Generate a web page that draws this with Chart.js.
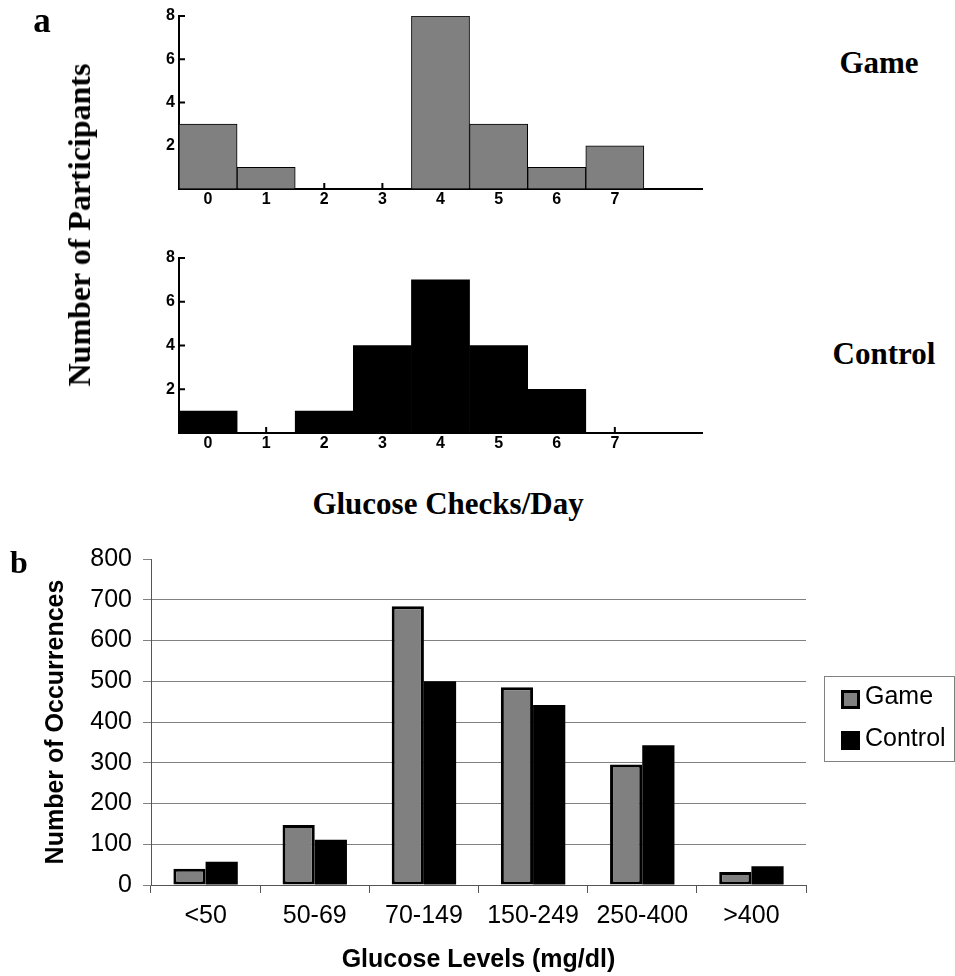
<!DOCTYPE html>
<html>
<head>
<meta charset="utf-8">
<script src="https://cdn.jsdelivr.net/npm/chart.js@4.4.1/dist/chart.umd.min.js"></script>
<style>
  body { margin: 0; background: #fff; }
  #page { position: relative; width: 955px; height: 976px; overflow: hidden; background: #fff; }
  canvas { position: absolute; left: 0; }
  .lbl { position: absolute; transform: translate(-50%, -50%); line-height: 1; white-space: nowrap; color: #000; }
  .serif { font-family: "Liberation Serif", "Times New Roman", serif; font-weight: bold; }
  .sans { font-family: "Liberation Sans", Arial, sans-serif; }
  #legend { position: absolute; left: 824px; top: 676px; width: 131px; height: 86px; border: 1px solid #808080; box-sizing: border-box; }
  .swatch { position: absolute; left: 16px; width: 19px; height: 19px; box-sizing: border-box; }
  .legtext { position: absolute; left: 40px; transform: translateY(-50%); font-size: 25px; line-height: 1; white-space: nowrap; }
</style>
</head>
<body>
<div id="page">
  <canvas id="gameHist" width="720" height="215" style="top:0px"></canvas>
  <canvas id="controlHist" width="720" height="217" style="top:241px"></canvas>
  <canvas id="occChart" width="955" height="446" style="top:530px"></canvas>

  <div class="lbl serif" style="left:42px; top:20px; font-size:35px;">a</div>
  <div class="lbl serif" style="left:19px; top:562px; font-size:32px;">b</div>
  <div class="lbl serif" style="left:79px; top:225px; font-size:32px; transform:translate(-50%,-50%) rotate(-90deg);">Number of Participants</div>
  <div class="lbl serif" style="left:879px; top:62px; font-size:31px;">Game</div>
  <div class="lbl serif" style="left:884px; top:353px; font-size:31px;">Control</div>
  <div class="lbl serif" style="left:448px; top:503px; font-size:31px;">Glucose Checks/Day</div>

  <div id="legend" class="sans"></div>
</div>
<script>
// glucose checks per day histograms (panel a)
const checkLabels = ['0', '1', '2', '3', '4', '5', '6', '7', ''];
const gameCounts = [3, 1, 0, 0, 8, 3, 1, 2, 0];
const controlCounts = [1, 0, 1, 4, 7, 4, 2, 0, 0];

// glucose level occurrences (panel b)
const glucoseLabels = ['<50', '50-69', '70-149', '150-249', '250-400', '>400'];
const gameOccurrences = [40, 147, 684, 485, 296, 32];
const controlOccurrences = [57, 111, 500, 442, 343, 46];
const seriesNames = ['Game', 'Control'];

Chart.defaults.font.family = '"Liberation Sans", Arial, sans-serif';
Chart.defaults.color = '#000';

// small ticks pointing into the plot, drawn under the bars
const innerTicks = {
  id: 'innerTicks',
  beforeDatasetsDraw(chart) {
    const { ctx, scales: { x, y } } = chart;
    ctx.save();
    ctx.strokeStyle = '#000';
    ctx.lineWidth = 2;
    ctx.beginPath();
    y.ticks.forEach((t) => {
      if (t.value > 0) {
        const py = y.getPixelForValue(t.value);
        ctx.moveTo(x.left, py);
        ctx.lineTo(x.left + 6, py);
      }
    });
    checkLabels.forEach((l, i) => {
      if (l !== '') {
        const px = x.getPixelForValue(i);
        ctx.moveTo(px, y.bottom);
        ctx.lineTo(px, y.bottom - 6);
      }
    });
    ctx.stroke();
    ctx.restore();
  },
};

function histogram(id, values, fill, borderWidth, padTop, xHeight) {
  const tickFont = { size: 16, weight: 'bold' };
  return new Chart(document.getElementById(id), {
    type: 'bar',
    data: {
      labels: checkLabels,
      datasets: [{
        data: values,
        backgroundColor: fill,
        borderColor: '#000',
        borderWidth: borderWidth,
        barPercentage: 1,
        categoryPercentage: 1,
      }],
    },
    options: {
      responsive: false,
      animation: false,
      events: [],
      layout: { padding: { top: padTop, right: 18, left: 0, bottom: 0 } },
      plugins: { legend: { display: false }, tooltip: { enabled: false } },
      scales: {
        x: {
          grid: { drawOnChartArea: false, drawTicks: false },
          border: { color: '#000', width: 2 },
          ticks: { font: tickFont, padding: 1, maxRotation: 0, autoSkip: false },
          afterFit: (s) => { s.height = xHeight; },
        },
        y: {
          min: 0,
          max: 8,
          grid: { drawOnChartArea: false, drawTicks: false },
          border: { color: '#000', width: 2 },
          ticks: { stepSize: 2, padding: 4, font: tickFont, callback: (v) => (v === 0 ? '' : v) },
          afterFit: (s) => { s.width = 179; },
        },
      },
    },
    plugins: [innerTicks],
  });
}

histogram('gameHist', gameCounts, '#808080', 1, 16, 26);
histogram('controlHist', controlCounts, '#000', 0, 17, 25);

new Chart(document.getElementById('occChart'), {
  type: 'bar',
  data: {
    labels: glucoseLabels,
    datasets: [
      {
        label: seriesNames[0],
        data: gameOccurrences,
        backgroundColor: '#808080',
        borderColor: '#000',
        borderWidth: 3,
        borderSkipped: false,
      },
      {
        label: seriesNames[1],
        data: controlOccurrences,
        backgroundColor: '#000',
        borderWidth: 0,
      },
    ],
  },
  options: {
    responsive: false,
    animation: false,
    events: [],
    datasets: { bar: { barPercentage: 1, categoryPercentage: 0.59 } },
    layout: { padding: { top: 29, right: 149, left: 0, bottom: 0 } },
    plugins: { legend: { display: false }, tooltip: { enabled: false } },
    scales: {
      x: {
        grid: { drawOnChartArea: false, tickLength: 8, color: '#555', offset: true },
        border: { color: '#555', width: 1 },
        ticks: { font: { size: 25 }, padding: 8, maxRotation: 0, autoSkip: false },
        title: {
          display: true,
          text: 'Glucose Levels (mg/dl)',
          font: { size: 25, weight: 'bold' },
          padding: { top: 0, bottom: 1 },
        },
        afterFit: (s) => { s.height = 91; },
      },
      y: {
        min: 0,
        max: 800,
        ticks: { stepSize: 100, font: { size: 25 }, padding: 11 },
        grid: {
          tickLength: 8,
          color: (c) => (c.tick && c.tick.value > 0 && c.tick.value < 800 ? '#808080' : 'rgba(0,0,0,0)'),
          tickColor: '#808080',
        },
        border: { color: '#555', width: 1 },
        title: {
          display: true,
          text: 'Number of Occurrences',
          font: { size: 25, weight: 'bold' },
          padding: { top: 41, bottom: 0 },
        },
        afterFit: (s) => { s.width = 151; },
      },
    },
  },
});

// legend box for panel b
const legend = document.getElementById('legend');
const swatchStyles = [
  'top:13px; background:#808080; border:3px solid #000;',
  'top:54px; background:#000;',
];
const textTops = [18, 60];
seriesNames.forEach((name, i) => {
  const sw = document.createElement('div');
  sw.className = 'swatch';
  sw.style.cssText = swatchStyles[i];
  legend.appendChild(sw);
  const tx = document.createElement('div');
  tx.className = 'legtext';
  tx.style.top = textTops[i] + 'px';
  tx.textContent = name;
  legend.appendChild(tx);
});
</script>
</body>
</html>
